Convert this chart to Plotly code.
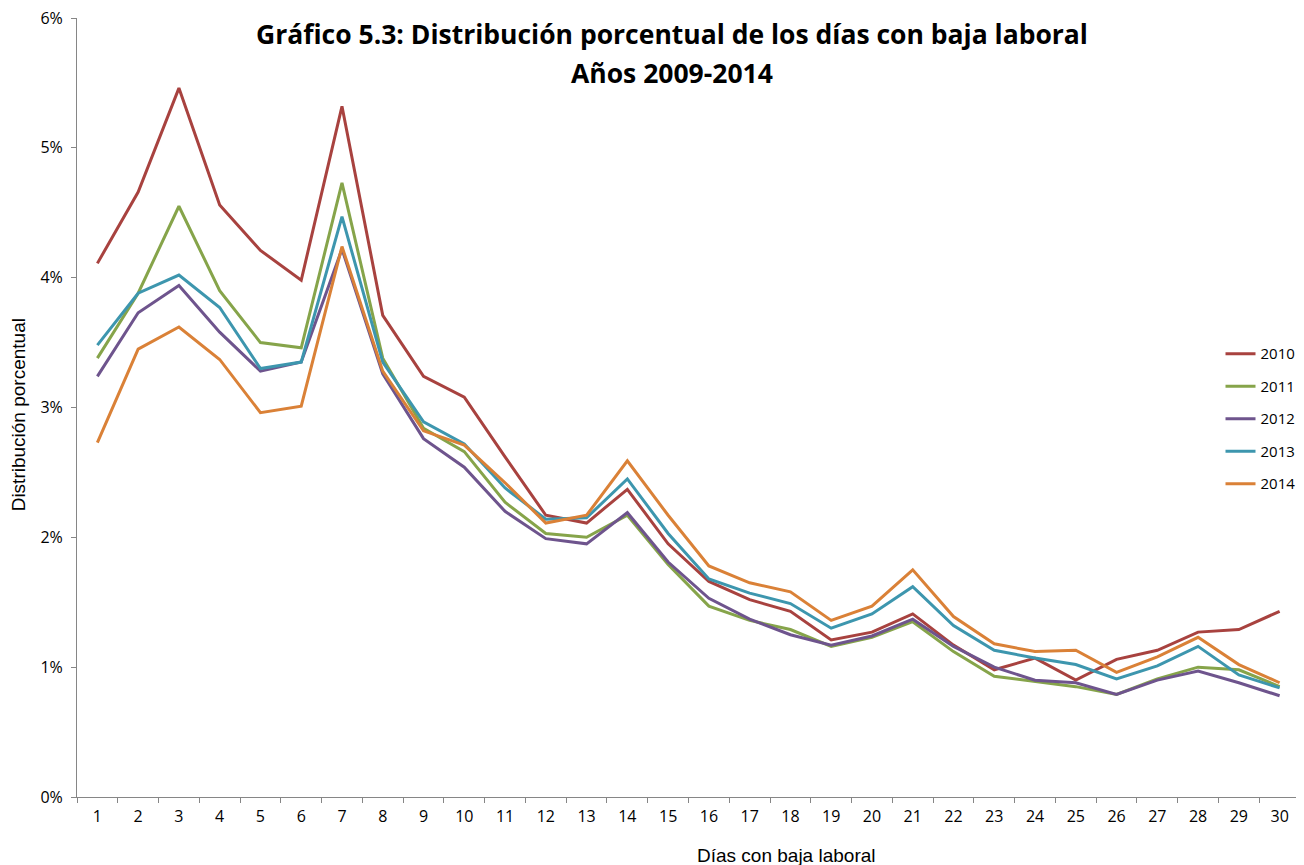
import plotly.graph_objects as go

days = [str(d) for d in range(1, 31)]

y2010 = [4.11, 4.66, 5.46, 4.56, 4.21, 3.98, 5.32, 3.71, 3.24, 3.08, 2.62, 2.17, 2.11, 2.37, 1.95,
         1.66, 1.52, 1.43, 1.21, 1.27, 1.41, 1.17, 0.98, 1.07, 0.90, 1.06, 1.13, 1.27, 1.29, 1.43]
y2011 = [3.38, 3.88, 4.55, 3.90, 3.50, 3.46, 4.73, 3.38, 2.84, 2.66, 2.27, 2.03, 2.00, 2.17, 1.79,
         1.47, 1.36, 1.29, 1.16, 1.23, 1.35, 1.12, 0.93, 0.89, 0.85, 0.79, 0.91, 1.00, 0.98, 0.85]
y2012 = [3.24, 3.73, 3.94, 3.58, 3.28, 3.35, 4.22, 3.26, 2.76, 2.54, 2.20, 1.99, 1.95, 2.19, 1.81,
         1.53, 1.37, 1.25, 1.17, 1.24, 1.37, 1.16, 1.00, 0.90, 0.88, 0.79, 0.90, 0.97, 0.88, 0.78]
y2013 = [3.48, 3.88, 4.02, 3.77, 3.30, 3.35, 4.47, 3.35, 2.89, 2.72, 2.38, 2.14, 2.15, 2.45, 2.03,
         1.68, 1.57, 1.49, 1.30, 1.41, 1.62, 1.32, 1.13, 1.07, 1.02, 0.91, 1.01, 1.16, 0.94, 0.84]
y2014 = [2.73, 3.45, 3.62, 3.37, 2.96, 3.01, 4.24, 3.28, 2.82, 2.71, 2.42, 2.11, 2.17, 2.59, 2.17,
         1.78, 1.65, 1.58, 1.36, 1.47, 1.75, 1.39, 1.18, 1.12, 1.13, 0.96, 1.08, 1.23, 1.02, 0.88]

series = [("2010", y2010, "#A8423F"), ("2011", y2011, "#86A44A"), ("2012", y2012, "#6E548D"),
          ("2013", y2013, "#3D96AE"), ("2014", y2014, "#DA8137")]

title_line1 = "Gráfico 5.3: Distribución porcentual de los días con baja laboral"
title_line2 = "Años 2009-2014"

fig = go.Figure()
for name, vals, col in series:
    fig.add_trace(go.Scatter(x=days, y=vals, mode="lines", name=name, legendgroup=name,
                             line=dict(color=col, width=3)))

tick_font = dict(family="Open Sans, sans-serif", size=16, color="black")
legend_font = dict(family="Open Sans, sans-serif", size=15, color="black")

fig.update_layout(
    width=1296, height=857,
    margin=dict(l=69, r=4, t=10, b=68, autoexpand=False),
    plot_bgcolor="white", paper_bgcolor="white",
    legend=dict(x=0.935, y=0.59, xanchor="left", yanchor="top", traceorder="grouped",
                tracegroupgap=10, font=legend_font, bgcolor="rgba(0,0,0,0)"),
    showlegend=True,
)
fig.update_xaxes(type="category", tickson="boundaries", ticks="outside", ticklen=5, tickcolor="#868686",
                 showline=True, linecolor="#868686", linewidth=1, showgrid=False,
                 tickfont=tick_font, range=[-0.5, 29.5], ticklabelstandoff=5,
                 ticklabeloverflow="allow")
fig.update_yaxes(range=[0, 6], dtick=1, ticksuffix="%", ticks="outside", ticklen=5, tickcolor="#868686",
                 showline=True, linecolor="#868686", linewidth=1, showgrid=False, zeroline=False,
                 tickfont=tick_font, ticklabelstandoff=5, ticklabeloverflow="allow")

title_font = dict(family="Open Sans, sans-serif", size=26.5, color="black")
fig.add_annotation(text="<b>" + title_line1 + "</b>", xref="paper", yref="paper", x=0.4865, y=0.979,
                   showarrow=False, xanchor="center", yanchor="middle", font=title_font)
fig.add_annotation(text="<b>" + title_line2 + "</b>", xref="paper", yref="paper", x=0.4865, y=0.929,
                   showarrow=False, xanchor="center", yanchor="middle", font=title_font)

axis_title_font = dict(family="Liberation Sans Narrow, Liberation Sans, Arial, sans-serif", size=19, color="black")
fig.add_annotation(text="Días con baja laboral", xref="paper", yref="paper", x=0.5805, y=-0.0745,
                   showarrow=False, xanchor="center", yanchor="middle", font=axis_title_font)
fig.add_annotation(text="Distribución porcentual", xref="paper", yref="paper", x=-0.0482, y=0.490,
                   showarrow=False, xanchor="center", yanchor="middle", textangle=-90, font=axis_title_font)

fig.write_html("out.html")
